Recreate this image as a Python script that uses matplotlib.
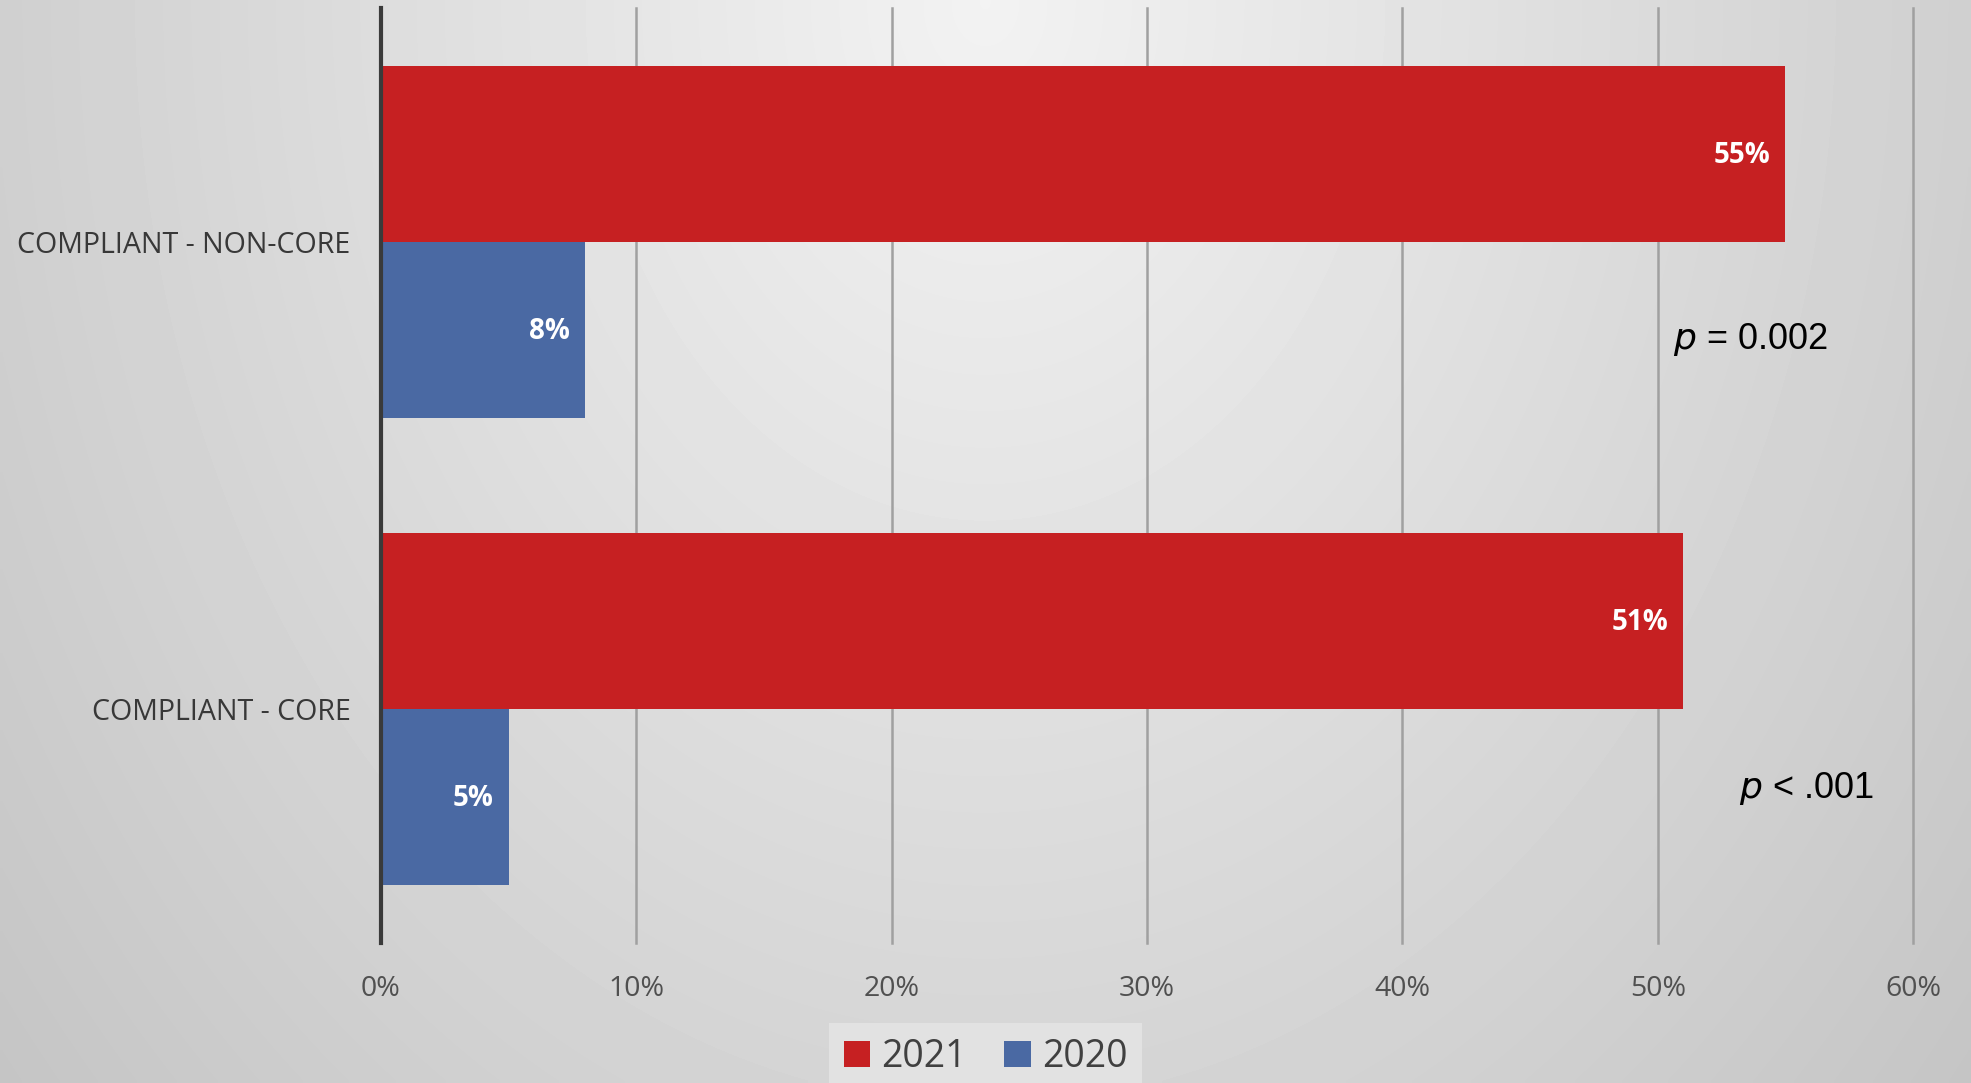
"""
Compliance rates 2021 vs 2020, horizontal grouped bars
"""

import numpy as np
import matplotlib.pyplot as plt

categories = ['COMPLIANT - CORE', 'COMPLIANT - NON-CORE']
vals_2021 = [51, 55]
vals_2020 = [5, 8]
p_labels = ['$p$ < .001', '$p$ = 0.002']
p_xpos = [53.2, 50.6]
p_ypos = [-0.17, 0.79]
xticks = [0, 10, 20, 30, 40, 50, 60]

red = '#C62022'
blue = '#4A69A3'

fig = plt.figure(figsize=(19.71, 10.83), dpi=100)

# background gradient (light top-centre, darker towards edges)
bg = fig.add_axes([0, 0, 1, 1], zorder=-10)
gx, gy = np.meshgrid(np.linspace(-1, 1, 400), np.linspace(0, 1, 220))
r = np.sqrt((gx / 1.1) ** 2 + (gy / 1.3) ** 2)
shade = 0.95 - 0.15 * np.clip(r, 0, 1.3)
bg.imshow(shade, cmap='gray', vmin=0, vmax=1, aspect='auto',
          extent=[0, 1, 0, 1], origin='upper', interpolation='bilinear')
bg.axis('off')

ax = fig.add_axes([0.1933, 0.1293, 0.7773, 0.8633])
ax.patch.set_alpha(0)

y = np.arange(len(categories))
h = 0.377
b21 = ax.barh(y + h / 2, vals_2021, height=h, color=red, label='2021', zorder=3)
b20 = ax.barh(y - h / 2, vals_2020, height=h, color=blue, label='2020', zorder=3)

for bars in (b21, b20):
    for bar in bars:
        w = bar.get_width()
        ax.annotate(f'{w:.0f}%', (w, bar.get_y() + bar.get_height() / 2),
                    xytext=(-11, -1), textcoords='offset points',
                    ha='right', va='center', color='white',
                    fontsize=20, fontweight='bold', family='Open Sans', zorder=4)

# p-values
for yi, lab, xp, yp in zip(y, p_labels, p_xpos, p_ypos):
    ax.text(xp, yp, lab, ha='left', va='center', fontsize=26,
            family='Liberation Sans', color='black',
            math_fontfamily='dejavusans')

ax.set_xlim(0, 60)
ax.set_ylim(-0.5, 1.5)
ax.set_xticks(xticks)
ax.set_xticklabels([f'{t}%' for t in xticks], family='Open Sans',
                   fontsize=20.5, color='#505050')
ax.set_yticks(y)
ax.set_yticklabels(categories, family='Open Sans', fontsize=20.6, color='#383838')
ax.tick_params(axis='x', length=0, pad=23)
ax.tick_params(axis='y', length=0, pad=22)

ax.grid(axis='x', color='#a0a0a0', linewidth=1.8, zorder=0)
for gl in ax.get_xgridlines():
    gl.set_clip_on(False)
ax.set_axisbelow(True)
for s in ['top', 'right', 'bottom']:
    ax.spines[s].set_visible(False)
ax.spines['left'].set_color('#3a3a3a')
ax.spines['left'].set_linewidth(3)
ax.spines['left'].set_zorder(5)

leg = fig.legend(handles=[b21, b20], loc='lower center',
                 bbox_to_anchor=(0.5, -0.025), ncol=2, frameon=True,
                 fancybox=False, handlelength=0.7, handleheight=0.7,
                 handletextpad=0.3, columnspacing=1.0,
                 prop={'family': 'Open Sans', 'size': 27})
leg.get_frame().set_facecolor('#e6e6e6')
leg.get_frame().set_edgecolor('none')
for t in leg.get_texts():
    t.set_color('#404040')

plt.savefig('out.png', dpi=100)
